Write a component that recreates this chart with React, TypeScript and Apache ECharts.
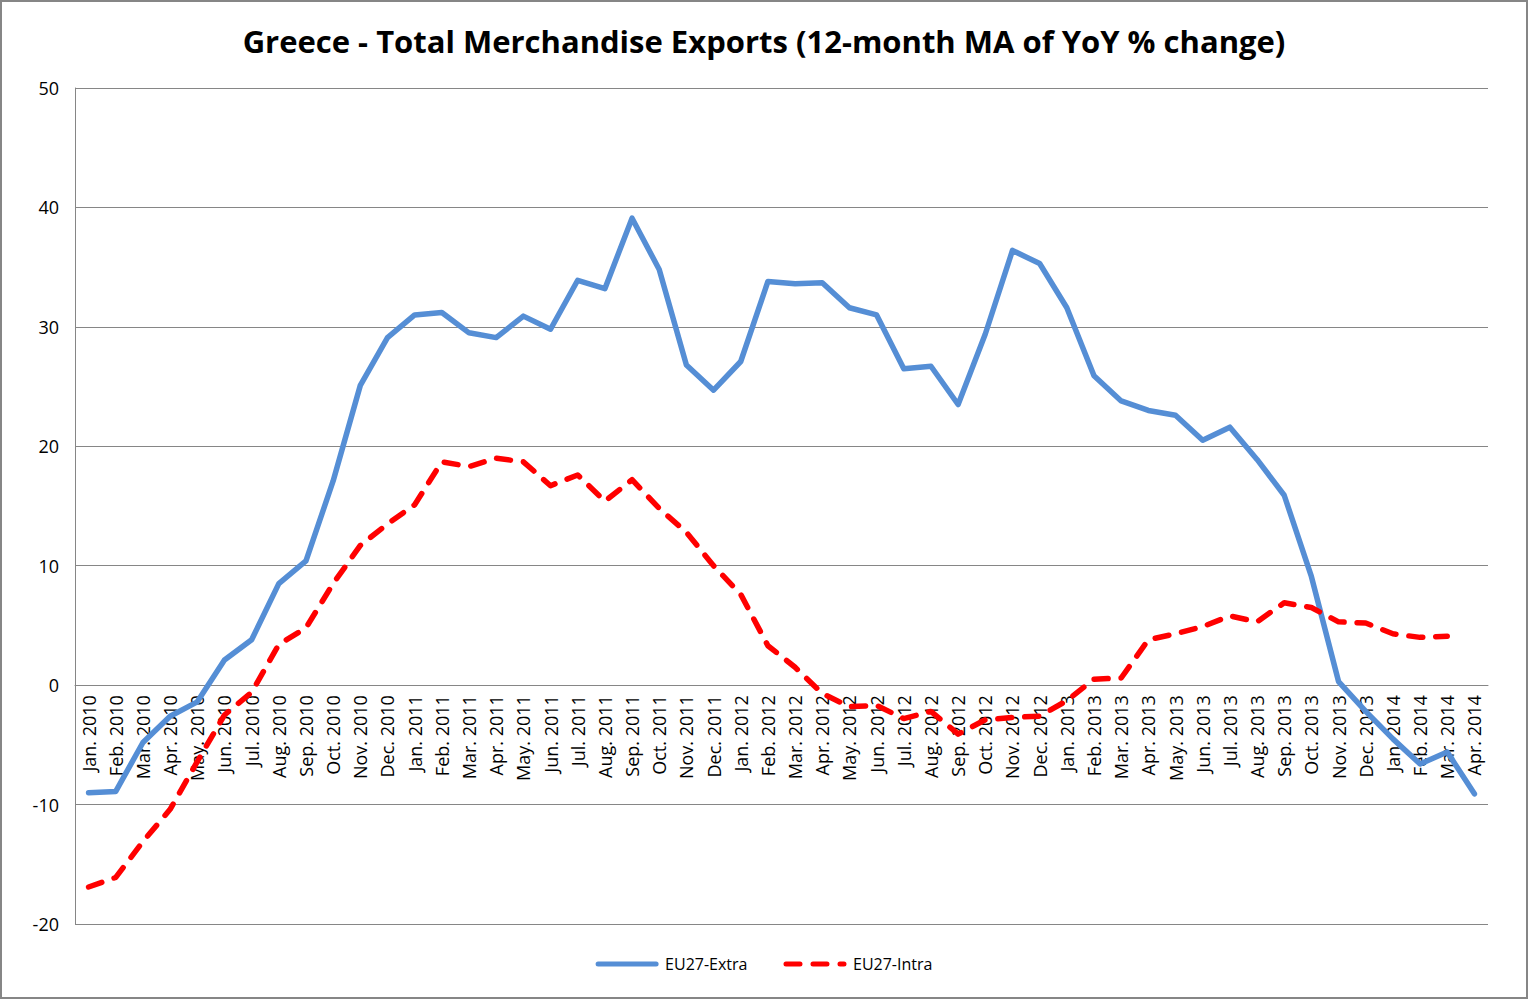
import React, { useEffect, useRef } from "react";
import * as echarts from "echarts";

const months = ["Jan.", "Feb.", "Mar.", "Apr.", "May.", "Jun.", "Jul.", "Aug.", "Sep.", "Oct.", "Nov.", "Dec."];
const categories: string[] = [];
for (let y = 2010; y <= 2014; y++) {
  for (let m = 0; m < 12; m++) {
    if (y === 2014 && m > 3) break;
    categories.push(`${months[m]} ${y}`);
  }
}

const extra = [
  -9.0, -8.9, -4.8, -2.6, -1.4, 2.1, 3.8, 8.5, 10.4, 17.1, 25.1, 29.1,
  31.0, 31.2, 29.5, 29.1, 30.9, 29.8, 33.9, 33.2, 39.1, 34.8, 26.8, 24.7,
  27.1, 33.8, 33.6, 33.7, 31.6, 31.0, 26.5, 26.7, 23.5, 29.4, 36.4, 35.3,
  31.6, 25.9, 23.8, 23.0, 22.6, 20.5, 21.6, 18.9, 15.9, 9.1, 0.3, -2.2,
  -4.5, -6.6, -5.6, -9.1,
];

const intra: (number | null)[] = [
  -16.9, -16.1, -13.1, -10.4, -6.4, -2.5, -0.6, 3.4, 4.8, 8.5, 11.7, 13.5,
  15.1, 18.7, 18.3, 19.0, 18.7, 16.7, 17.6, 15.4, 17.2, 14.8, 12.8, 10.0,
  7.6, 3.3, 1.5, -0.7, -1.8, -1.7, -2.8, -2.2, -4.1, -2.9, -2.7, -2.6,
  -1.3, 0.5, 0.6, 3.8, 4.3, 4.9, 5.8, 5.3, 6.9, 6.5, 5.3, 5.2,
  4.3, 4.0, 4.1, null,
];

const yTicks = { min: -20, max: 50, interval: 10 };

const FONT = "'Open Sans', 'Noto Sans', sans-serif";

const GRID_TOP = 86;
const GRID_BOTTOM = 73;
const CHART_H = 995;

export default function App() {
  const ref = useRef<HTMLDivElement>(null);
  useEffect(() => {
    if (!ref.current) return;
    const chart = echarts.init(ref.current, undefined, { renderer: "svg" });
    const plotH = CHART_H - GRID_TOP - GRID_BOTTOM;
    const zeroOffset = -(plotH * (0 - yTicks.min)) / (yTicks.max - yTicks.min);
    chart.setOption({
      animation: false,
      backgroundColor: "#ffffff",
      title: {
        text: "Greece - Total Merchandise Exports (12-month MA of YoY % change)",
        left: "center",
        top: 18,
        textStyle: { fontFamily: FONT, fontWeight: "bold", fontSize: 31, color: "#000" },
      },
      grid: { left: 73, right: 38, top: GRID_TOP, bottom: GRID_BOTTOM, containLabel: false },
      legend: {
        bottom: 20,
        left: "center",
        itemWidth: 58,
        itemHeight: 10,
        itemGap: 36,
        itemStyle: { opacity: 0 },
        lineStyle: { width: 5 },
        textStyle: { fontFamily: FONT, fontSize: 16, color: "#000", padding: [0, 0, 0, 4] },
        data: ["EU27-Extra", "EU27-Intra"],
      },
      xAxis: {
        type: "category",
        data: categories,
        boundaryGap: true,
        offset: zeroOffset,
        axisLine: { onZero: false, lineStyle: { color: "#868686", width: 1 } },
        axisTick: { show: false },
        axisLabel: {
          interval: 0,
          rotate: 90,
          fontFamily: FONT,
          fontSize: 18,
          color: "#000",
          margin: 10,
        },
      },
      yAxis: {
        type: "value",
        min: yTicks.min,
        max: yTicks.max,
        interval: yTicks.interval,
        axisLine: { show: true, lineStyle: { color: "#868686", width: 1 } },
        axisTick: { show: false },
        splitLine: { show: true, lineStyle: { color: "#868686", width: 1 } },
        axisLabel: { fontFamily: FONT, fontSize: 18, color: "#000", margin: 16 },
      },
      series: [
        {
          name: "EU27-Extra",
          type: "line",
          data: extra,
          showSymbol: false,
          symbol: "none",
          color: "#558ED5",
          lineStyle: { color: "#558ED5", width: 5.5, cap: "round", join: "round" },
        },
        {
          name: "EU27-Intra",
          type: "line",
          data: intra,
          showSymbol: false,
          symbol: "none",
          color: "#FF0000",
          lineStyle: { color: "#FF0000", width: 5.5, type: [14, 13], cap: "round", join: "round" },
        },
      ],
    });
    return () => chart.dispose();
  }, []);
  return (
    <div
      style={{
        position: "fixed",
        left: 0,
        top: 0,
        width: 1528,
        height: 999,
        boxSizing: "border-box",
        border: "2px solid #868686",
        background: "#fff",
      }}
    >
      <div ref={ref} style={{ width: 1524, height: CHART_H }} />
    </div>
  );
}
